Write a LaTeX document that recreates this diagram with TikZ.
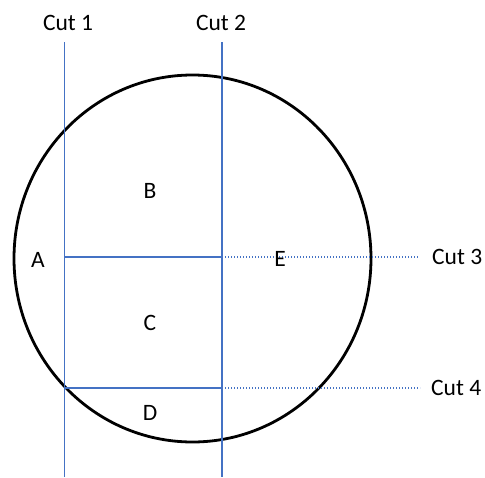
\documentclass[tikz,border=0pt]{standalone}
\usepackage{fontspec}
\setmainfont{Carlito}
\definecolor{cutblue}{HTML}{4472C4}
\begin{document}
\begin{tikzpicture}[x=1pt,y=-1pt,
  cut/.style={draw=cutblue,line width=1.4pt},
  cutdot/.style={draw=cutblue,line width=1.4pt,dash pattern=on 1.4pt off 1.6pt},
  lbl/.style={font=\fontsize{23.5}{28}\selectfont,inner sep=0pt},
  reg/.style={font=\fontsize{23.5}{28}\selectfont,inner sep=0pt}]
\useasboundingbox (0,0) rectangle (485,477);
\draw[line width=2.8pt] (192.5,258.5) ellipse [x radius=178.5, y radius=183.5];
% cut labels
\node[lbl] (c1) at (68,23) {Cut 1};
\node[lbl] (c2) at (221,23) {Cut 2};
\node[lbl,anchor=west] (c3) at (432,257) {Cut 3};
\node[lbl,anchor=west] (c4) at (431,388) {Cut 4};
% coordinates
\coordinate (t1) at (64.5,42);
\coordinate (b1) at (64.5,477);
\coordinate (t2) at (222,42);
\coordinate (b2) at (222,477);
\coordinate (m1) at (64.5,257);
\coordinate (m2) at (222,257);
\coordinate (e3) at (418,257);
\coordinate (n1) at (64.5,388);
\coordinate (n2) at (222,388);
\coordinate (e4) at (420,388);
\draw[cut] (t1) -- (b1);
\draw[cut] (t2) -- (b2);
\draw[cut] (m1) -- (m2);
\draw[cutdot] (m2) -- (e3);
\draw[cut] (n1) -- (n2);
\draw[cutdot] (n2) -- (e4);
% regions
\node[reg] (A) at (38,260) {A};
\node[reg] (B) at (150,191) {B};
\node[reg] (C) at (150,323) {C};
\node[reg] (D) at (150,413) {D};
\node[reg] (E) at (280,259) {E};
\end{tikzpicture}
\end{document}
